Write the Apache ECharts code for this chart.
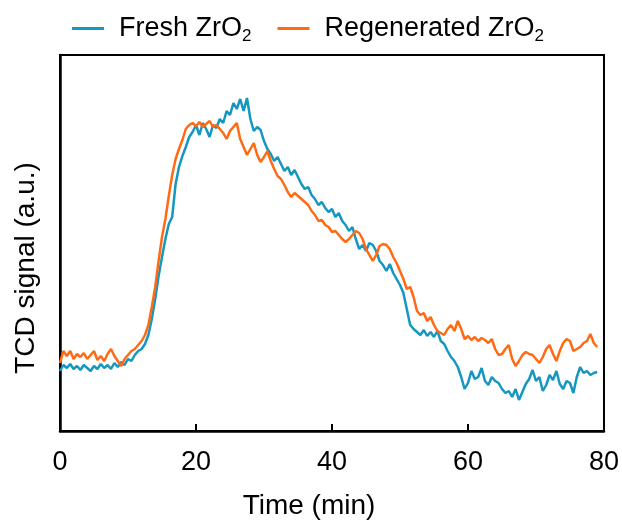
<!DOCTYPE html>
<html>
<head>
  <meta charset="utf-8">
  <title>TCD signal</title>
  <script src="https://fastly.jsdelivr.net/npm/echarts@6/dist/echarts.min.js"></script>
</head>
<body style="margin:0;background:#fff">
<div id="main" style="width:622px;height:525px;"></div>
<script type="text/javascript">
  // sampling step of both traces (min)
  var step = 0.5;
  var seriesNames = ['Fresh ZrO{s|2}', 'Regenerated ZrO{s|2}'];

  // TCD signal (a.u.), one value every 0.5 min from 0 to 79 min
  var fresh = [60,66,63,67,62,65,61,66,63,60,65,62,67,63,66,62,68,64,69,66,
    72,70,76,80,82,87,96,112,132,155,174,192,207,214,247,264,275,284,294,299,
    306,296,308,302,294,306,303,312,308,320,316,328,322,332,320,333,312,300,304,301,
    290,282,277,270,274,267,260,264,256,261,254,247,242,244,236,232,226,229,223,219,
    222,214,218,210,206,200,204,192,182,186,180,188,186,180,170,166,160,167,158,152,
    146,138,122,106,102,99,96,101,95,99,94,100,90,87,80,74,70,64,54,42,
    48,60,52,54,63,50,46,54,50,48,42,38,40,34,42,31,39,47,52,61,
    50,54,40,46,56,51,60,47,42,50,48,38,54,64,58,60,56,58,59];
  var regenerated = [68,80,75,80,72,77,74,78,72,76,80,71,75,70,77,82,75,70,65,72,
    76,80,82,86,90,96,106,124,144,170,194,212,235,256,272,282,291,302,306,308,
    305,309,304,307,310,304,306,302,298,292,300,304,308,292,284,276,282,288,276,269,
    274,280,270,262,255,252,246,239,234,238,235,232,229,226,220,216,210,211,206,204,
    199,200,196,192,189,192,196,200,198,192,182,176,170,176,185,187,186,182,174,168,
    160,152,142,144,134,120,116,118,110,114,106,100,98,96,102,106,100,110,102,92,
    95,91,94,90,93,91,88,92,82,76,77,82,86,72,65,70,76,79,77,76,
    72,68,74,82,86,77,70,80,88,92,90,80,82,84,88,90,97,88,84];

  function toPairs(arr) {
    return arr.map(function (v, i) { return [i * step, v]; });
  }

  var myChart = echarts.init(document.getElementById('main'));
  var font = 'Liberation Sans, Arial, sans-serif';

  var option = {
    animation: false,
    color: ['#1597c1', '#ff6a13'],
    textStyle: { fontFamily: font },
    legend: {
      top: 10,
      left: 67,
      itemWidth: 32,
      itemHeight: 3,
      itemGap: 26,
      icon: 'rect',
      textStyle: {
        fontSize: 27,
        color: '#000',
        fontFamily: font,
        padding: [0, 0, 0, 10],
        rich: {
          s: { fontSize: 17, fontFamily: font, color: '#000', padding: [15, 0, 0, 0] }
        }
      },
      data: seriesNames
    },
    grid: {
      left: 60,
      right: 18,
      top: 55,
      bottom: 94,
      show: true,
      borderColor: '#000',
      borderWidth: 2
    },
    xAxis: {
      type: 'value',
      min: 0,
      max: 80,
      interval: 20,
      name: 'Time (min)',
      nameLocation: 'middle',
      nameGap: 61,
      nameTextStyle: { fontSize: 28, color: '#000', fontFamily: font, padding: [0, 46, 0, 0] },
      axisLine: { lineStyle: { color: '#000', width: 2.5 } },
      axisTick: { inside: true, length: 7, lineStyle: { color: '#000', width: 2 } },
      axisLabel: { fontSize: 27, color: '#000', margin: 18, fontFamily: font },
      splitLine: { show: false }
    },
    yAxis: {
      type: 'value',
      min: 0,
      max: 376,
      name: 'TCD signal (a.u.)',
      nameLocation: 'middle',
      nameGap: 20,
      nameTextStyle: { fontSize: 28, color: '#000', fontFamily: font, padding: [0, 50, 0, 0] },
      axisLine: { show: true, lineStyle: { color: '#000', width: 2.5 } },
      axisTick: { show: false },
      axisLabel: { show: false },
      splitLine: { show: false }
    },
    series: [
      {
        name: seriesNames[0],
        type: 'line',
        showSymbol: false,
        lineStyle: { width: 2.5 },
        data: toPairs(fresh)
      },
      {
        name: seriesNames[1],
        type: 'line',
        showSymbol: false,
        lineStyle: { width: 2.5 },
        data: toPairs(regenerated)
      }
    ]
  };

  myChart.setOption(option);
</script>
</body>
</html>
